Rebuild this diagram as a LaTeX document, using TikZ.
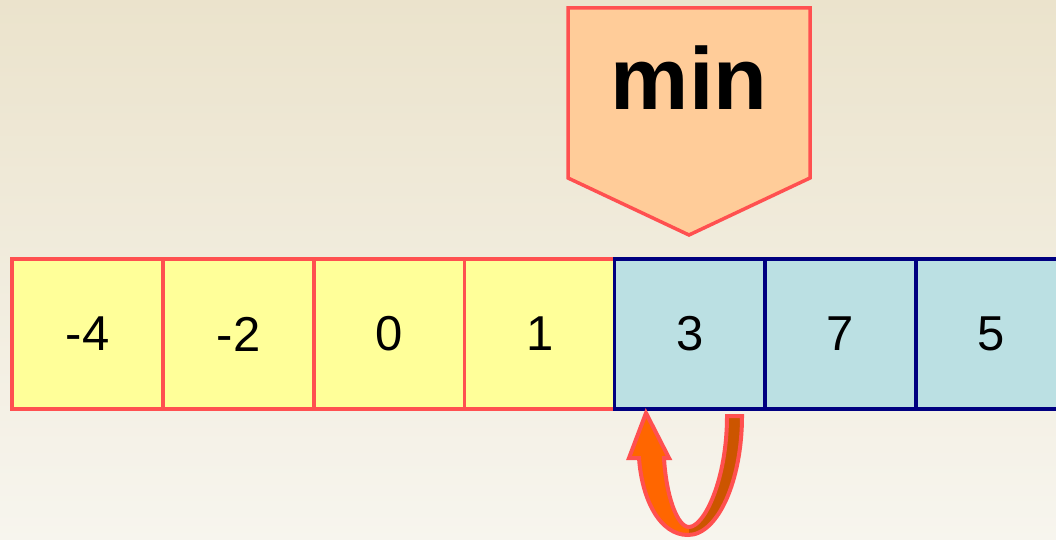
\documentclass[tikz,border=0pt]{standalone}
\usepackage{fontspec}
\setmainfont{Liberation Sans}
\definecolor{bgtop}{HTML}{EBE3CC}
\definecolor{bgbot}{HTML}{F7F5EE}
\definecolor{cellY}{HTML}{FFFF99}
\definecolor{cellB}{HTML}{BBE0E3}
\definecolor{edgeR}{HTML}{FF5050}
\definecolor{edgeB}{HTML}{000080}
\definecolor{minfill}{HTML}{FFCC99}
\definecolor{arrA}{HTML}{FF6600}
\definecolor{arrB}{HTML}{CC5500}
\tikzset{
  cell/.style={rectangle, minimum width=151pt, minimum height=150pt, inner sep=0pt, outer sep=0pt,
     line width=3.5pt, font=\fontsize{49}{49}\selectfont},
  ycell/.style={cell, fill=cellY, draw=edgeR},
  bcell/.style={cell, fill=cellB, draw=edgeB},
}
\begin{document}
\begin{tikzpicture}[x=1pt,y=-1pt]
\useasboundingbox (0,0) rectangle (1056,540);
\clip (0,0) rectangle (1056,540);
\shade[top color=bgtop, bottom color=bgbot] (0,0) rectangle (1056,540);
% cells
\node[ycell] (c1) at (87.5,334) {-4};
\node[ycell] (c2) at (238.5,334) {-2};
\node[ycell] (c3) at (389.5,334) {0};
\node[ycell] (c4) at (540,334) {1};
\node[bcell] (c5) at (690,334) {3};
\node[bcell] (c6) at (840.5,334) {7};
\node[bcell] (c7) at (991.5,334) {5};
% min pentagon
\coordinate (p1) at (568,8);
\coordinate (p2) at (810,8);
\coordinate (p3) at (810,178);
\coordinate (p4) at (689,235);
\coordinate (p5) at (568,178);
\draw[fill=minfill, draw=edgeR, line width=3.5pt, line join=miter] (p1) -- (p2) -- (p3) -- (p4) -- (p5) -- cycle;
\node[anchor=base, font=\fontsize{88}{88}\selectfont\bfseries, inner sep=0pt] (min) at (689,110) {min};
% curved ribbon arrow
\coordinate (r1) at (727,416);
\coordinate (r2) at (742,416);
\coordinate (bo) at (688,535);
\coordinate (l1) at (639,458);
\coordinate (h1) at (629,458);
\coordinate (tip) at (646,413);
\coordinate (h2) at (669,458);
\coordinate (l2) at (664,458);
\coordinate (bi) at (689,527);
\def\ribbon{(r1) -- (r2) .. controls (742,480) and (718,535) .. (bo)
   .. controls (660,535) and (642,500) .. (l1) -- (h1) -- (tip) -- (h2) -- (l2)
   .. controls (666,495) and (677,527) .. (bi)
   .. controls (704,527) and (727,480) .. (r1) -- cycle}
\fill[arrA] \ribbon;
\begin{scope}
  \clip (689,400) rectangle (760,540);
  \fill[arrB] \ribbon;
\end{scope}
\draw[edgeR, line width=4pt, line join=miter] \ribbon;
\end{tikzpicture}
\end{document}
